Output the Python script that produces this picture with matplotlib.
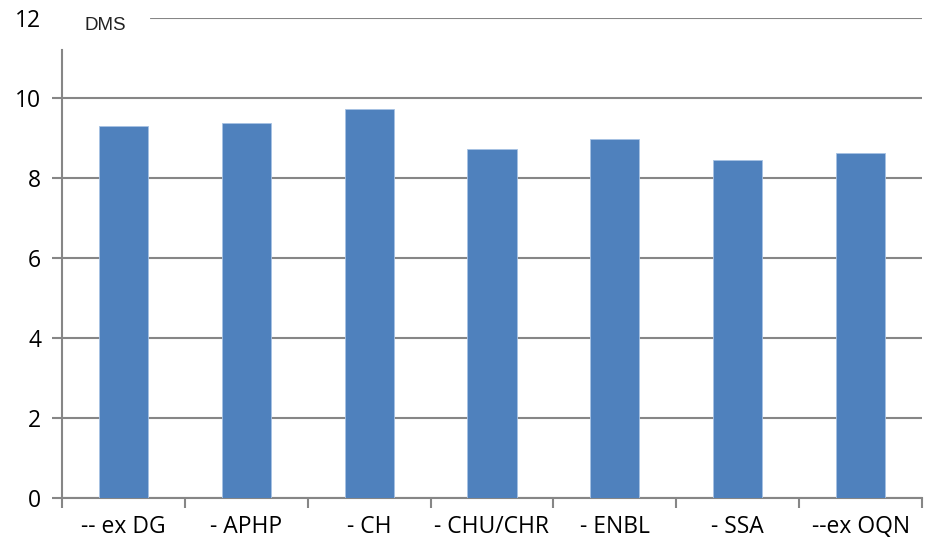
import matplotlib.pyplot as plt
import numpy as np

categories = ['-- ex DG', '- APHP', '- CH', '- CHU/CHR', '- ENBL', '- SSA', '--ex OQN']
values = [9.30, 9.37, 9.72, 8.72, 8.97, 8.45, 8.62]
yticks = [0, 2, 4, 6, 8, 10, 12]

bar_color = '#4f81bd'
grid_color = '#868686'

fig = plt.figure(figsize=(9.27, 5.49), dpi=100)
ax = fig.add_axes([62 / 927, 1 - 498 / 549, 860 / 927, 480 / 549])

x = np.arange(len(categories))
ax.bar(x, values, width=0.4, color=bar_color, edgecolor='#a7c2e3', linewidth=0.6, zorder=3)

ax.set_xlim(-0.5, len(categories) - 0.5)
ax.set_ylim(0, 12)
ax.set_yticks(yticks)
ax.set_yticklabels([str(t) for t in yticks])
ax.yaxis.grid(True, color=grid_color, linewidth=1.5, zorder=0)

# category labels centred, tick marks on the boundaries
ax.set_xticks(x)
ax.set_xticklabels(categories)
ax.set_xticks(np.arange(len(categories) + 1) - 0.5, minor=True)
ax.tick_params(axis='x', which='major', length=0, pad=12, labelsize=16.5)
ax.tick_params(axis='x', which='minor', length=7, width=1.5, color=grid_color)
ax.tick_params(axis='y', length=7, width=1.5, color=grid_color, labelsize=16.5, pad=8)
for lab in ax.get_xticklabels() + ax.get_yticklabels():
    lab.set_fontfamily('Open Sans')
ax.yaxis.get_major_ticks()[-1].tick1line.set_visible(False)

for side in ['top', 'right']:
    ax.spines[side].set_visible(False)
for side in ['left', 'bottom']:
    ax.spines[side].set_color(grid_color)
    ax.spines[side].set_linewidth(1.5)
ax.spines['left'].set_bounds(0, 11.2)

# axis title box sitting over the top gridline
ax.text(0.05, 11.82, 'DMS', transform=ax.get_yaxis_transform(), ha='center', va='center',
        fontsize=13.5, family='Liberation Sans', color='#222222', zorder=5, clip_on=False,
        bbox=dict(boxstyle='square,pad=0.55', facecolor='white', edgecolor='none'))
ax.plot([-0.5, 0.2], [12, 12], color='white', linewidth=3, zorder=4, clip_on=False)

fig.savefig('out.png', dpi=100)
